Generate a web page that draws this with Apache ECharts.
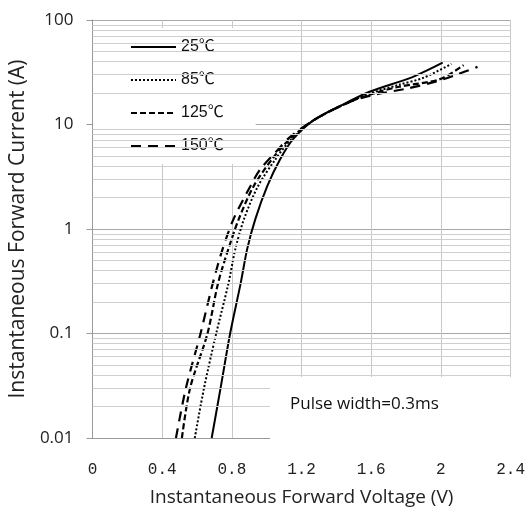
<!DOCTYPE html>
<html>
<head>
<meta charset="utf-8">
<script src="https://cdn.jsdelivr.net/npm/echarts@6/dist/echarts.min.js"></script>
<style>
  html, body { margin: 0; padding: 0; background: #fff; }
  #chart { width: 528px; height: 512px; }
</style>
</head>
<body>
<div id="chart"></div>
<script>
// forward voltage (V) vs current (A)
var t25 = [[0.684, 0.01], [0.735, 0.03], [0.79, 0.1], [0.85, 0.3], [0.888, 0.645], [0.935, 1.25], [1.003, 2.57], [1.077, 4.64], [1.15, 7.2], [1.27, 11], [1.46, 16.2], [1.59, 20.6], [1.84, 28.6], [2.01, 39]];
var t85 = [[0.587, 0.01], [0.64, 0.03], [0.71, 0.1], [0.78, 0.3], [0.82, 0.645], [0.87, 1.25], [0.95, 2.57], [1.05, 4.64], [1.14, 7.2], [1.27, 11], [1.46, 16], [1.6, 20], [1.76, 24], [1.9, 28], [2.06, 38]];
var t125 = [[0.513, 0.01], [0.56, 0.03], [0.66, 0.1], [0.72, 0.3], [0.78, 0.645], [0.84, 1.25], [0.925, 2.57], [1.03, 4.64], [1.13, 7.2], [1.27, 11], [1.46, 16], [1.6, 19.5], [1.76, 23], [1.99, 27], [2.13, 37]];
var t150 = [[0.479, 0.01], [0.536, 0.03], [0.62, 0.1], [0.69, 0.3], [0.747, 0.645], [0.81, 1.25], [0.906, 2.57], [0.963, 3.73], [1.05, 5.4], [1.13, 7.5], [1.27, 11], [1.46, 16], [1.6, 19], [1.8, 22], [1.97, 25.7], [2.09, 30], [2.21, 35.6]];
var seriesNames = ['25℃', '85℃', '125℃', '150℃'];
var minorGrid = [0.02, 0.03, 0.04, 0.05, 0.06, 0.07, 0.08, 0.09,
  0.2, 0.3, 0.4, 0.5, 0.6, 0.7, 0.8, 0.9,
  2, 3, 4, 5, 6, 7, 8, 9,
  20, 30, 40, 50, 60, 70, 80, 90];

var chart = echarts.init(document.getElementById('chart'));

function curve(name, data, type, width) {
  return {
    name: name,
    type: 'line',
    data: data,
    symbol: 'none',
    smooth: 0.3,
    itemStyle: { color: '#000' },
    lineStyle: { color: '#000', width: width, type: type }
  };
}

chart.setOption({
  animation: false,
  grid: { left: 91, right: 16, top: 20, bottom: 72 },
  legend: {
    data: seriesNames,
    orient: 'vertical',
    left: 93,
    top: 28,
    padding: [11, 32, 10, 37],
    itemWidth: 45,
    itemHeight: 16,
    itemGap: 17,
    backgroundColor: '#fff',
    itemStyle: { opacity: 0 },
    textStyle: { fontSize: 16, color: '#111', fontFamily: 'Liberation Sans, Noto Sans CJK SC' }
  },
  xAxis: {
    type: 'value',
    min: 0,
    max: 2.4,
    interval: 0.4,
    name: 'Instantaneous Forward Voltage (V)',
    nameLocation: 'middle',
    nameGap: 50,
    nameTextStyle: { fontSize: 19, color: '#222', fontFamily: 'Open Sans' },
    axisLine: { lineStyle: { color: '#999' } },
    axisTick: { show: false },
    axisLabel: { margin: 24, fontSize: 16, color: '#222', fontFamily: 'Liberation Mono' },
    splitLine: { show: true, lineStyle: { color: '#c8c8c8', width: 1 } }
  },
  yAxis: {
    type: 'log',
    logBase: 10,
    min: 0.01,
    max: 100,
    name: 'Instantaneous Forward Current (A)',
    nameLocation: 'middle',
    nameGap: 62,
    nameTextStyle: { fontSize: 21, color: '#222', fontFamily: 'Open Sans' },
    axisLine: { show: true, lineStyle: { color: '#999' } },
    axisTick: { show: true, inside: false, length: 6, lineStyle: { color: '#999' } },
    axisLabel: { margin: 19, fontSize: 17, color: '#222', fontFamily: 'Open Sans' },
    splitLine: { show: true, lineStyle: { color: '#a8a8a8', width: 1 } }
  },
  graphic: [
    {
      type: 'rect',
      z: 100,
      shape: { x: 270, y: 377, width: 241, height: 63 },
      style: { fill: '#fff' }
    },
    {
      type: 'text',
      z: 101,
      x: 290,
      y: 404,
      style: {
        text: 'Pulse width=0.3ms',
        font: '17px "Open Sans"',
        fill: '#111',
        verticalAlign: 'middle'
      }
    }
  ],
  series: [
    {
      name: 'grid',
      type: 'line',
      data: [],
      silent: true,
      markLine: {
        silent: true,
        symbol: 'none',
        label: { show: false },
        lineStyle: { color: '#cfcfcf', width: 1, type: 'solid' },
        data: minorGrid.map(function (v) { return { yAxis: v }; })
      }
    },
    curve(seriesNames[0], t25, 'solid', 2),
    curve(seriesNames[1], t85, [2, 2], 2),
    curve(seriesNames[2], t125, [6, 3], 2.2),
    curve(seriesNames[3], t150, [10, 7], 2.2)
  ]
});
</script>
</body>
</html>
